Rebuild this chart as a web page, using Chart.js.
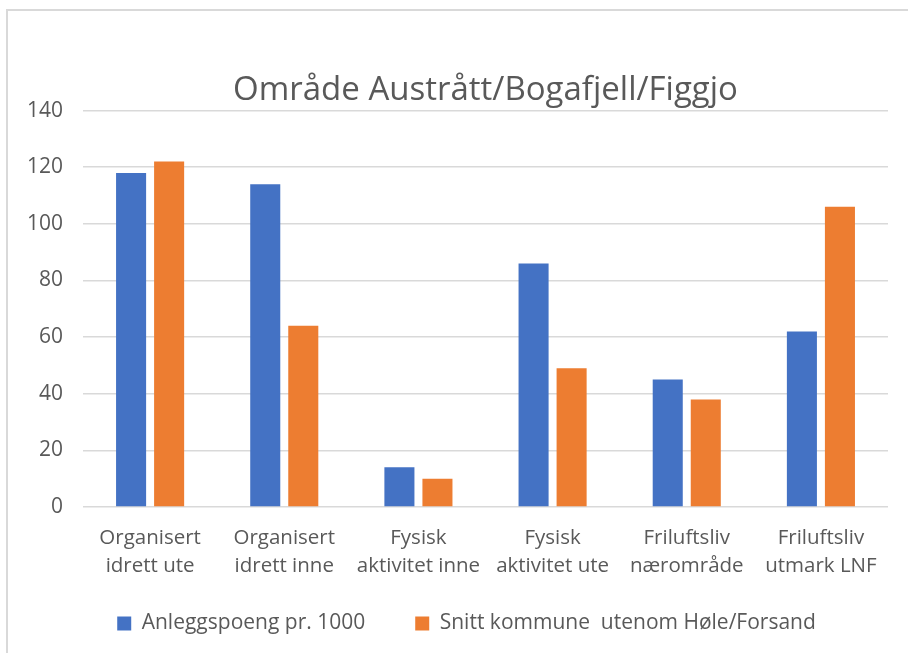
<!DOCTYPE html>
<html>
<head>
<meta charset="utf-8">
<script src="https://cdn.jsdelivr.net/npm/chart.js@4/dist/chart.umd.min.js"></script>
<style>
  body { margin: 0; background: #fff; }
  #wrap { position: relative; width: 908px; height: 653px; }
  #frame {
    position: absolute; left: 6px; top: 9px; right: 0; bottom: 0;
    border-top: 2px solid #d9d9d9; border-left: 2px solid #d9d9d9;
  }
  canvas { position: absolute; left: 0; top: 0; }
</style>
</head>
<body>
<div id="wrap">
  <div id="frame"></div>
  <canvas id="chart" width="908" height="653"></canvas>
</div>
<script>
const categories = [
  ["Organisert", "idrett ute"],
  ["Organisert", "idrett inne"],
  ["Fysisk", "aktivitet inne"],
  ["Fysisk", "aktivitet ute"],
  ["Friluftsliv", "nærområde"],
  ["Friluftsliv", "utmark LNF"],
];
const anleggspoeng = [118, 114, 14, 86, 45, 62];
const snittKommune = [122, 64, 10, 49, 38, 106];
const seriesNames = ["Anleggspoeng pr. 1000", "Snitt kommune  utenom Høle/Forsand"];

const textColor = "#595959";
const fontFamily = "'Open Sans', sans-serif";

// nudge the legend a bit right, like in the original
const legendShift = {
  id: "legendShift",
  afterLayout(chart) {
    chart.legend.left += 19;
    chart.legend.right += 19;
  },
};

const ctx = document.getElementById("chart").getContext("2d");
new Chart(ctx, {
  type: "bar",
  data: {
    labels: categories,
    datasets: [
      {
        label: seriesNames[0],
        data: anleggspoeng,
        backgroundColor: "#4472c4",
      },
      {
        label: seriesNames[1],
        data: snittKommune,
        backgroundColor: "#ed7d31",
      },
    ],
  },
  plugins: [legendShift],
  options: {
    responsive: false,
    animation: false,
    layout: {
      padding: { top: 71, left: 7, right: 20, bottom: 9 },
    },
    datasets: {
      bar: {
        categoryPercentage: 0.567,
        barPercentage: 0.79,
      },
    },
    plugins: {
      title: {
        display: true,
        fullSize: false,
        text: "Område Austrått/Bogafjell/Figgjo",
        color: textColor,
        font: { family: fontFamily, size: 33, weight: "normal" },
        padding: { top: 0, bottom: 0 },
      },
      legend: {
        position: "bottom",
        labels: {
          color: textColor,
          font: { family: fontFamily, size: 21 },
          boxWidth: 14,
          boxHeight: 14,
          padding: 50,
        },
      },
      tooltip: { enabled: false },
    },
    scales: {
      x: {
        grid: { display: false },
        border: { display: false },
        // let the two-line labels run into the legend's empty top padding
        afterFit: (scale) => {
          scale.height = 56;
          scale._computeLabelArea = () => undefined;
        },
        ticks: {
          color: textColor,
          font: { family: fontFamily, size: 20.5, lineHeight: 1.36 },
          maxRotation: 0,
          autoSkip: false,
          padding: 9,
        },
      },
      y: {
        min: 0,
        max: 140,
        ticks: {
          stepSize: 20,
          color: textColor,
          font: { family: fontFamily, size: 21 },
          padding: 20,
        },
        grid: { color: "#d9d9d9", lineWidth: 1.5, drawTicks: false },
        border: { display: false },
      },
    },
  },
});
</script>
</body>
</html>
